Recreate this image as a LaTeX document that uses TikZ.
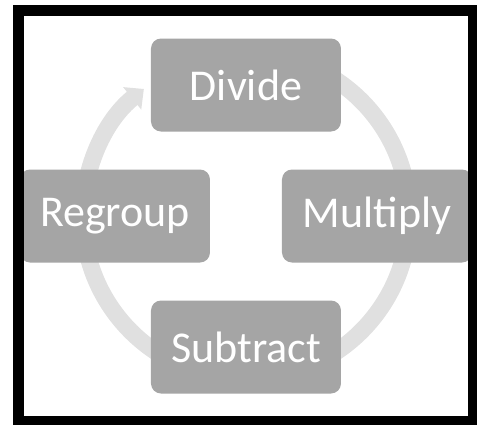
\documentclass[tikz,border=0pt]{standalone}
\usepackage{fontspec}
\setmainfont{Carlito}
\usetikzlibrary{arrows.meta}
\definecolor{boxgray}{RGB}{165,165,165}
\definecolor{ringgray}{RGB}{224,224,224}
\def\ringrad{163}
\def\boxsep{131}

\begin{document}
\begin{tikzpicture}[x=1pt,y=1pt]
    \tikzstyle{stage}=[rectangle, rounded corners=10pt, fill=boxgray, text=white, minimum width=190pt, minimum height=93pt, inner sep=0pt, font=\fontsize{44}{52}\selectfont]
    \tikzstyle{ring}=[draw=ringgray, line width=17pt]
    \tikzstyle{frame}=[draw=black, line width=11pt]

    \useasboundingbox (-246,216) rectangle (231,-208);
    \coordinate (c) at (0,0);

%   ring goes first, the boxes hide its ends
    \foreach \x/\a in {0/90,1/0,2/-90,3/180}{
        \coordinate (a-\x) at ([shift={(\a:\ringrad)}]c);
    }
    \draw[ring] (a-0) arc[start angle=90, end angle=-180, radius=\ringrad];
    \draw[ring, -{Triangle[width=28pt,length=15pt]}] (a-3) arc[start angle=180, end angle=128.8, radius=\ringrad];

    \foreach \x/\a/\t in {0/90/Divide,1/0/Multiply,2/-90/Subtract,3/180/Regroup}{
        \node[stage] (S-\x) at ([shift={(\a:\boxsep)}]c) {\t};
    }

    \draw[frame] (-227.5,205.5) rectangle (227.5,-205.5);
\end{tikzpicture}
\end{document}
